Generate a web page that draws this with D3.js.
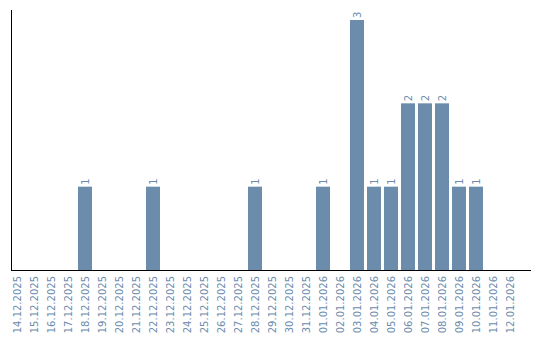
<!DOCTYPE html>
<html lang="en">
<head>
    <meta charset="UTF-8">
    <title>Bar chart</title>
    <script src="https://d3js.org/d3.v7.min.js"></script>
    <style>
        body { margin: 0; background: #fff; }
        text { font-family: "DejaVu Sans", sans-serif; font-size: 10px; fill: #6b8cad; }
    </style>
</head>
<body>
<svg></svg>
<script>
    var width = 540;
    var height = 340;

    var dates = ["14.12.2025", "15.12.2025", "16.12.2025", "17.12.2025", "18.12.2025",
        "19.12.2025", "20.12.2025", "21.12.2025", "22.12.2025", "23.12.2025",
        "24.12.2025", "25.12.2025", "26.12.2025", "27.12.2025", "28.12.2025",
        "29.12.2025", "30.12.2025", "31.12.2025", "01.01.2026", "02.01.2026",
        "03.01.2026", "04.01.2026", "05.01.2026", "06.01.2026", "07.01.2026",
        "08.01.2026", "09.01.2026", "10.01.2026", "11.01.2026", "12.01.2026"];
    var counts = [0, 0, 0, 0, 1, 0, 0, 0, 1, 0, 0, 0, 0, 0, 1, 0, 0, 0, 1, 0,
        3, 1, 1, 2, 2, 2, 1, 1, 0, 0];

    var data = dates.map(function (d, i) {
        return {date: d, value: counts[i]};
    });

    var svg = d3.select("svg")
            .attr("width", width)
            .attr("height", height);

    var xScale = d3.scaleBand()
            .domain(dates)
            .range([8.5, 518.5])
            .paddingInner(3 / 17)
            .paddingOuter(1.5 / 17);

    var yScale = d3.scaleLinear()
            .domain([0, 3])
            .range([270, 20]);

    var barColor = "#6b8cab";

    // bars
    svg.selectAll("rect.bar")
            .data(data.filter(function (d) { return d.value > 0; }))
            .enter()
            .append("rect")
            .attr("class", "bar")
            .attr("x", function (d) { return xScale(d.date); })
            .attr("y", function (d) { return yScale(d.value); })
            .attr("width", xScale.bandwidth())
            .attr("height", function (d) { return yScale(0) - yScale(d.value); })
            .style("fill", barColor);

    // value labels, rotated
    svg.selectAll("text.val")
            .data(data.filter(function (d) { return d.value > 0; }))
            .enter()
            .append("text")
            .attr("class", "val")
            .attr("transform", function (d) {
                var cx = xScale(d.date) + xScale.bandwidth() / 2;
                return "translate(" + cx + "," + (yScale(d.value) - 2) + ") rotate(-90)";
            })
            .attr("dy", "0.35em")
            .attr("text-anchor", "start")
            .text(function (d) { return d.value; });

    // x axis with rotated date labels
    var xAxis = d3.axisBottom(xScale).tickSize(0).tickPadding(0);
    var gx = svg.append("g")
            .attr("transform", "translate(0,270)")
            .call(xAxis);
    gx.select(".domain").remove();
    gx.selectAll("text")
            .attr("transform", "rotate(-90)")
            .attr("x", -6)
            .attr("y", 0)
            .attr("dy", "0.35em")
            .attr("text-anchor", "end")
            .style("font-size", "10px")
            .style("fill", "#6b8cad");

    // axis lines
    svg.append("line")
            .attr("x1", 11.5).attr("x2", 11.5)
            .attr("y1", 10).attr("y2", 270)
            .style("stroke", "#000");
    svg.append("line")
            .attr("x1", 11).attr("x2", 531)
            .attr("y1", 270.5).attr("y2", 270.5)
            .style("stroke", "#000");
</script>
</body>
</html>
